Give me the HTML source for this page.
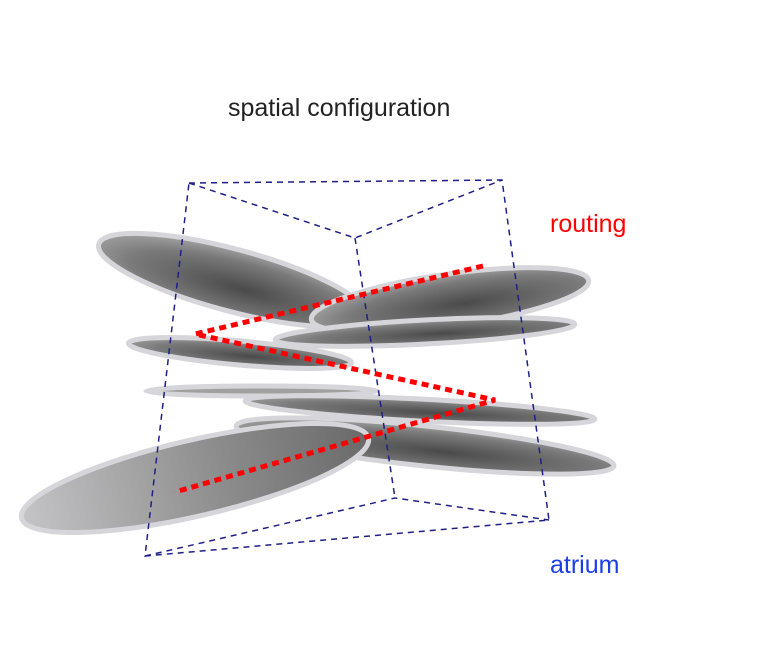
<!DOCTYPE html>
<html><head><meta charset="utf-8"><style>
html,body{margin:0;padding:0;background:#fff;width:780px;height:647px;overflow:hidden}
</style></head><body>
<svg width="780" height="647" viewBox="0 0 780 647" xmlns="http://www.w3.org/2000/svg">
<defs>
<radialGradient id="g" cx="0.55" cy="0.6" r="0.6">
<stop offset="0" stop-color="#4a4a4a"/><stop offset="0.7" stop-color="#7a7a7a"/><stop offset="1" stop-color="#a0a0a0"/>
</radialGradient>
<linearGradient id="g2" x1="0" y1="0" x2="1" y2="0">
<stop offset="0" stop-color="#c4c4c6"/><stop offset="0.6" stop-color="#8a8a8a"/><stop offset="1" stop-color="#6a6a6a"/>
</linearGradient>
</defs>
<text x="228" y="116" font-family="Liberation Sans, sans-serif" font-size="25" fill="#222">spatial configuration</text>
<text x="550" y="232" font-family="Liberation Sans, sans-serif" font-size="25" fill="#f00">routing</text>
<text x="550" y="573" font-family="Liberation Sans, sans-serif" font-size="25" fill="#1a3de6">atrium</text>

<g stroke="#d6d6da" stroke-width="5">
<ellipse cx="232" cy="280" rx="138" ry="31" transform="rotate(15 232 280)" fill="url(#g)"/>
<ellipse cx="450" cy="300" rx="140" ry="26" transform="rotate(-8 450 300)" fill="url(#g)"/>
<ellipse cx="425" cy="332" rx="150" ry="12" transform="rotate(-3 425 332)" fill="url(#g)"/>
<ellipse cx="240" cy="353" rx="112" ry="12" transform="rotate(5 240 353)" fill="url(#g)"/>
<ellipse cx="262" cy="391" rx="116" ry="5" fill="#a0a0a0"/>
<ellipse cx="420" cy="410" rx="175" ry="11" transform="rotate(3 420 410)" fill="url(#g)"/>
<ellipse cx="425" cy="446" rx="190" ry="20" transform="rotate(6 425 446)" fill="url(#g)"/>
<ellipse cx="195" cy="478" rx="178" ry="38" transform="rotate(-13 195 478)" fill="url(#g2)"/>
</g>

<g fill="none" stroke="#1f1f85" stroke-width="1.5" stroke-dasharray="6,5">
<polyline points="189,183 502,180 549,520 145,556 189,183"/>
<polyline points="189,183 355,238 502,180"/>
<polyline points="355,238 395,498"/>
<polyline points="145,556 395,498 549,520"/>
</g>
<polyline points="483,266 195,334 495,400 175,492" fill="none" stroke="#f00" stroke-width="5" stroke-dasharray="7,5"/>
</svg>
</body></html>
